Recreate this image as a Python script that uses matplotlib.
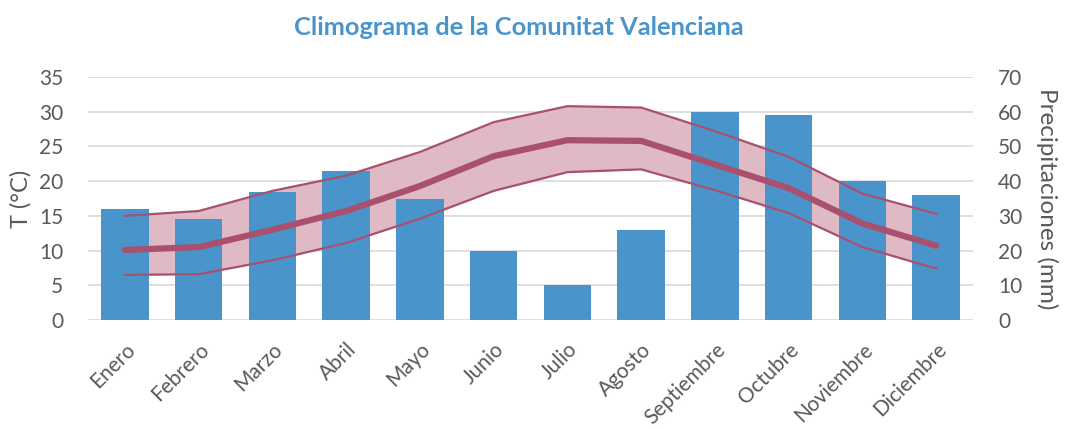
import matplotlib.pyplot as plt
import numpy as np

plt.rcParams['font.family'] = ['Lato', 'DejaVu Sans']

meses = ['Enero', 'Febrero', 'Marzo', 'Abril', 'Mayo', 'Junio',
         'Julio', 'Agosto', 'Septiembre', 'Octubre', 'Noviembre', 'Diciembre']

# precipitaciones mensuales (mm)
precip = [32, 29, 37, 43, 35, 20, 10, 26, 60, 59, 40, 36]

# temperaturas (°C)
t_max = [15.0, 15.7, 18.6, 20.8, 24.2, 28.5, 30.8, 30.6, 27.2, 23.5, 18.2, 15.3]
t_med = [10.1, 10.5, 13.0, 15.7, 19.3, 23.6, 25.9, 25.8, 22.4, 19.0, 13.9, 10.7]
t_min = [6.5, 6.6, 8.6, 11.1, 14.6, 18.6, 21.3, 21.7, 18.7, 15.4, 10.5, 7.4]

gris = '#595959'
azul = '#4a94cc'
granate = '#a8506e'
rosa = '#dfb9c4'

fig = plt.figure(figsize=(10.67, 4.29), dpi=100)
ax = fig.add_axes([0.0825, 0.254, 0.8295, 0.5665])
x = np.arange(len(meses))

# banda entre max y min (detras de las barras)
ax.fill_between(x, t_min, t_max, color=rosa, linewidth=0, zorder=1)
ax.set_ylim(0, 35)
ax.set_yticks(range(0, 36, 5))
ax.set_xlim(-0.5, 11.5)
ax.grid(axis='y', color='#d9d9d9', linewidth=1.2, zorder=0)
ax.set_axisbelow(True)

# barras de precipitacion
ax2 = ax.twinx()
ax2.bar(x, precip, width=0.645, color=azul, zorder=2)
ax2.set_ylim(0, 70)
ax2.set_yticks(range(0, 71, 10))

# lineas de temperatura encima de las barras
ax3 = ax.twinx()
ax3.plot(x, t_max, color=granate, linewidth=1.6)
ax3.plot(x, t_min, color=granate, linewidth=1.6)
ax3.plot(x, t_med, color=granate, linewidth=4.5, solid_capstyle='round')
ax3.set_ylim(0, 35)
ax3.axis('off')

for a in (ax, ax2):
    for s in a.spines.values():
        s.set_visible(False)
    a.tick_params(length=0, labelsize=15, colors=gris, pad=18)

ax.set_xticks(x)
ax.set_xticklabels(meses, rotation=45, ha='right', va='top', rotation_mode='anchor')
ax.tick_params(axis='x', pad=14)

ax.set_ylabel('T (°C)', fontsize=17, color=gris, labelpad=5)
ax2.set_ylabel('Precipitaciones (mm)', fontsize=17.5, color=gris, rotation=270, labelpad=26)

fig.text(0.486, 0.937, 'Climograma de la Comunitat Valenciana', ha='center', va='center',
         fontsize=18.3, fontweight='bold', color='#4a94cc')

fig.savefig('out.png', dpi=100)
